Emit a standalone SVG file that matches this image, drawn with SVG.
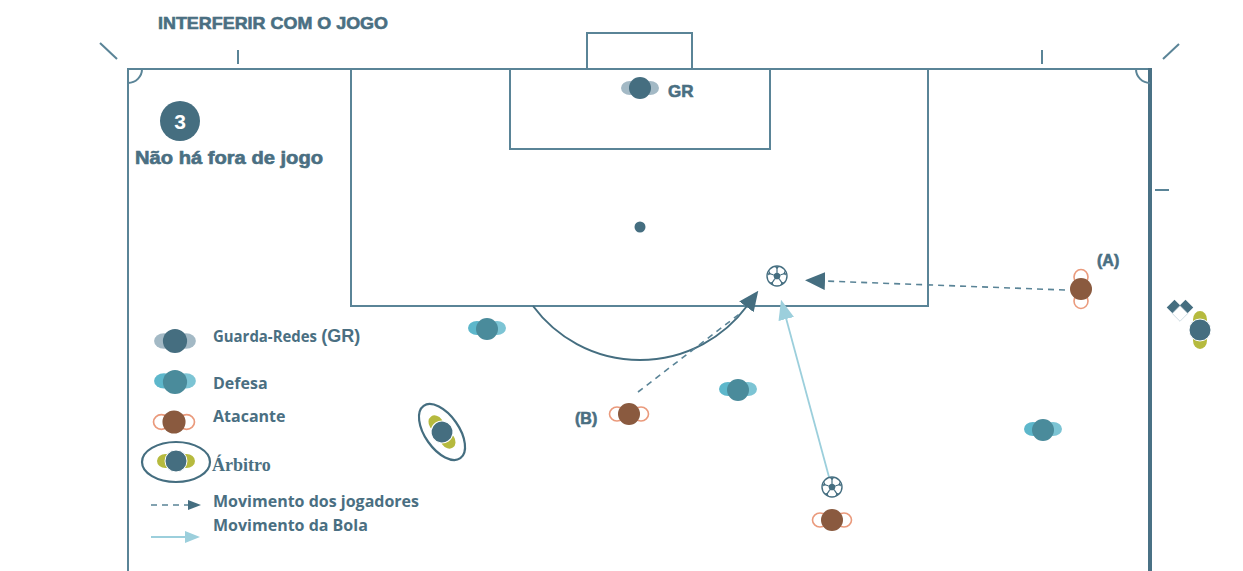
<svg xmlns="http://www.w3.org/2000/svg" width="1243" height="571" viewBox="0 0 1243 571">
  <style>
    .line { fill: none; stroke: #5a8497; stroke-width: 2; }
    .title { font-family: "Liberation Sans", Arial, sans-serif; font-weight: bold; fill: #4a6f82; stroke: #4a6f82; stroke-width: 0.6; }
    .legend { font-family: "Open Sans", "Liberation Sans", sans-serif; font-weight: 700; font-size: 16px; fill: #4a6f82; }
    .dash { fill: none; stroke: #5a8497; stroke-width: 1.6; stroke-dasharray: 6 5; }
    .ballpath { fill: none; stroke: #9ccfdc; stroke-width: 1.8; }
  </style>
  <defs>
    <marker id="headDark" viewBox="0 0 20 18" refX="1" refY="9" markerWidth="20" markerHeight="18" markerUnits="userSpaceOnUse" orient="auto">
      <path d="M0,0 L20,9 L0,18 Z" fill="#456e80"/>
    </marker>
    <marker id="headDarkSmall" viewBox="0 0 13 10" refX="1" refY="5" markerWidth="13" markerHeight="10" markerUnits="userSpaceOnUse" orient="auto">
      <path d="M0,0 L13,5 L0,10 Z" fill="#456e80"/>
    </marker>
    <marker id="headLight" viewBox="0 0 20 16" refX="1" refY="8" markerWidth="20" markerHeight="16" markerUnits="userSpaceOnUse" orient="auto">
      <path d="M0,0 L20,8 L0,16 Z" fill="#9ccfdc"/>
    </marker>
    <marker id="headLightSmall" viewBox="0 0 15 12" refX="1" refY="6" markerWidth="15" markerHeight="12" markerUnits="userSpaceOnUse" orient="auto">
      <path d="M0,0 L15,6 L0,12 Z" fill="#9ccfdc"/>
    </marker>

    <!-- top-down player figures, centred on the head -->
    <g id="keeper">
      <ellipse cx="-10" cy="0" rx="9" ry="7" fill="#a3b9c5"/>
      <ellipse cx="10" cy="0" rx="9" ry="7" fill="#a3b9c5"/>
      <circle r="11" fill="#456e80"/>
    </g>
    <g id="defender">
      <ellipse cx="-10" cy="-1" rx="9" ry="7" fill="#5db7cb"/>
      <ellipse cx="10" cy="-1" rx="9" ry="7" fill="#7cc4d4"/>
      <circle r="11" fill="#4a8b9b"/>
    </g>
    <g id="attacker">
      <ellipse cx="-12" cy="0" rx="7.5" ry="7" fill="#fff" stroke="#ea9a7c" stroke-width="1.6"/>
      <ellipse cx="12" cy="0" rx="7.5" ry="7" fill="#fff" stroke="#ea9a7c" stroke-width="1.6"/>
      <circle r="11" fill="#8a5a3f"/>
    </g>
    <g id="referee">
      <ellipse cx="-10.5" cy="0" rx="8.5" ry="7" fill="#b6ba3e"/>
      <ellipse cx="10.5" cy="0" rx="8.5" ry="7" fill="#b6ba3e"/>
      <circle r="11" fill="#456e80" stroke="#fff" stroke-width="1"/>
    </g>
    <g id="ball">
      <circle r="10" fill="#fff" stroke="#456e80" stroke-width="1.4"/>
      <polygon points="0,-4 3.8,-1.2 2.4,3.2 -2.4,3.2 -3.8,-1.2" fill="#456e80"/>
      <path d="M0,-4 L0,-9 M3.8,-1.2 L8.6,-2.8 M2.4,3.2 L5.3,7.3 M-2.4,3.2 L-5.3,7.3 M-3.8,-1.2 L-8.6,-2.8" stroke="#456e80" stroke-width="1.2"/>
      <path d="M-2.5,-9.6 L2.5,-9.6 L0,-7 Z M9.2,-0.5 L7.6,-5.3 L6.3,-2 Z M7.5,6.5 L3.2,9.4 L4.6,6 Z M-7.5,6.5 L-3.2,9.4 L-4.6,6 Z M-9.2,-0.5 L-7.6,-5.3 L-6.3,-2 Z" fill="#456e80"/>
    </g>
  </defs>

  <rect width="1243" height="571" fill="#fff"/>

  <!-- pitch markings -->
  <g id="pitch">
    <line class="line" x1="128" y1="69" x2="1152" y2="69"/>
    <line class="line" x1="128" y1="68" x2="128" y2="571"/>
    <line x1="1150" y1="68" x2="1150" y2="571" stroke="#4a7185" stroke-width="4"/>
    <path class="line" d="M142,69 A14,14 0 0 1 128,83"/>
    <path class="line" d="M1136,69 A14,14 0 0 0 1150,83"/>
    <line class="line" x1="100" y1="43" x2="117" y2="59"/>
    <line class="line" x1="1163" y1="59" x2="1179" y2="44"/>
    <line class="line" x1="238" y1="50" x2="238" y2="64"/>
    <line class="line" x1="1042" y1="50" x2="1042" y2="64"/>
    <line class="line" x1="1155" y1="190" x2="1169" y2="190"/>
    <rect class="line" x="351" y="69" width="577" height="237"/>
    <rect class="line" x="510" y="69" width="260" height="80"/>
    <rect class="line" x="587" y="33" width="105" height="36"/>
    <circle cx="640" cy="227" r="5.5" fill="#456e80"/>
  </g>

  <!-- titles -->
  <g id="heading">
    <text class="title" x="158" y="29" font-size="17" textLength="230" lengthAdjust="spacingAndGlyphs">INTERFERIR COM O JOGO</text>
    <circle cx="180" cy="121" r="20" fill="#456e80"/>
    <text x="180" y="129" text-anchor="middle" font-family="Liberation Sans, Arial, sans-serif" font-weight="bold" font-size="21" fill="#fff">3</text>
    <text class="title" x="135" y="164" font-size="18" textLength="188" lengthAdjust="spacingAndGlyphs">Não há fora de jogo</text>
  </g>

  <!-- movements -->
  <g id="connectors">
    <path d="M533,306 A133,133 0 0 0 747,306" fill="none" stroke="#456e80" stroke-width="2" marker-end="url(#headDark)"/>
    <line class="dash" x1="638" y1="392" x2="742" y2="312"/>
    <line class="dash" x1="1065" y1="290" x2="824" y2="281" marker-end="url(#headDark)"/>
    <line class="ballpath" x1="829" y1="477" x2="786" y2="318" marker-end="url(#headLight)"/>
  </g>

  <!-- players and balls -->
  <g id="gr"><use href="#keeper" transform="translate(640,88)"/></g>
  <text class="title" x="668" y="97" font-size="17">GR</text>

  <g id="defender1"><use href="#defender" transform="translate(487,329)"/></g>
  <g id="defender2"><use href="#defender" transform="translate(738,390)"/></g>
  <g id="defender3"><use href="#defender" transform="translate(1043,430)"/></g>

  <g id="attackerA"><use href="#attacker" transform="translate(1081,289) rotate(90)"/></g>
  <text class="title" x="1097" y="266" font-size="16">(A)</text>
  <g id="attackerB"><use href="#attacker" transform="translate(629,414)"/></g>
  <text class="title" x="575" y="424" font-size="16">(B)</text>
  <g id="attackerC"><use href="#attacker" transform="translate(832,520)"/></g>

  <g id="ball1"><use href="#ball" transform="translate(777,276)"/></g>
  <g id="ball2"><use href="#ball" transform="translate(832,487)"/></g>

  <g id="ref">
    <ellipse cx="442" cy="432" rx="17" ry="32" transform="rotate(-35 442 432)" fill="none" stroke="#456e80" stroke-width="2.2"/>
    <use href="#referee" transform="translate(442,432) rotate(55)"/>
  </g>

  <g id="assistant">
    <use href="#referee" transform="translate(1200,330) rotate(90)"/>
    <rect x="1169" y="302" width="11" height="11" transform="rotate(45 1174.5 307.5)" fill="#456e80"/>
    <rect x="1180" y="302" width="11" height="11" transform="rotate(45 1185.5 307.5)" fill="#456e80"/>
    <rect x="1174.5" y="308" width="11" height="11" transform="rotate(45 1180 313.5)" fill="#fff" stroke="#c8d6de" stroke-width="0.8"/>
  </g>

  <!-- key -->
  <g id="legend">
    <use href="#keeper" transform="translate(175,341) scale(1.1)"/>
    <text class="legend" x="213" y="342"><tspan textLength="104" lengthAdjust="spacingAndGlyphs">Guarda-Redes</tspan> <tspan style="font-family: 'Liberation Sans', Arial, sans-serif; font-size: 18px; font-weight: bold;">(GR)</tspan></text>
    <use href="#defender" transform="translate(175,382) scale(1.1)"/>
    <text class="legend" x="213" y="389">Defesa</text>
    <use href="#attacker" transform="translate(174,422) scale(1.05)"/>
    <text class="legend" x="213" y="422">Atacante</text>
    <ellipse cx="176" cy="462" rx="34" ry="20" fill="none" stroke="#456e80" stroke-width="2.2"/>
    <use href="#referee" transform="translate(176,461)"/>
    <text x="212" y="471" font-family="Liberation Serif, Times New Roman, serif" font-weight="bold" font-size="18" fill="#4a6f82">Árbitro</text>
    <line class="dash" x1="151" y1="505" x2="189" y2="505" stroke-dasharray="4 4" marker-end="url(#headDarkSmall)"/>
    <text class="legend" x="213" y="507">Movimento dos jogadores</text>
    <line class="ballpath" x1="151" y1="537" x2="186" y2="537" marker-end="url(#headLightSmall)"/>
    <text class="legend" x="213" y="531">Movimento da Bola</text>
  </g>
</svg>
